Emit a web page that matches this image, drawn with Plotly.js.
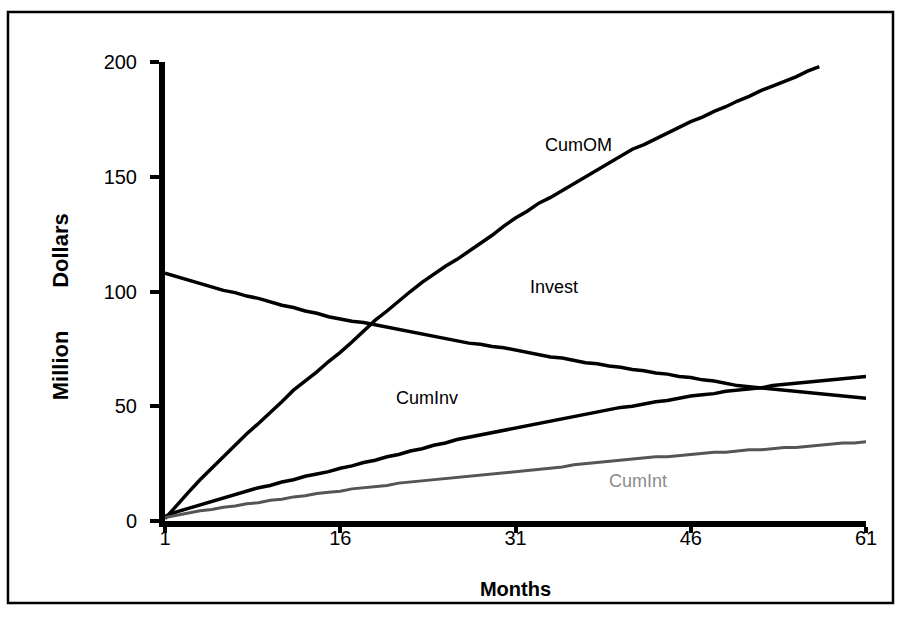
<!DOCTYPE html>
<html>
<head>
<meta charset="utf-8">
<script src="https://cdn.plot.ly/plotly-3.0.1.min.js"></script>
<style>html,body{margin:0;padding:0;background:#fff;}#chart{width:898px;height:634px;}</style>
</head>
<body>
<div id="chart"></div>
<script>
// Months 1..61
const months = Array.from({length: 61}, (_, i) => i + 1);

// CumOM (ends at month 57, where it reaches the top of the chart)
const cumOM = [1,7,12.5,18,23,28.5,33.5,38,42.5,47,52,57,61,65,69.5,73.5,78,83,87.5,91.5,
  96,100,104,107.5,111,114,117.5,121,124.5,128.5,132,135,138.5,141,144,147,150,153,156,159,
  162,164,166.5,169,171.5,174,176,178.5,180.5,183,185,187.5,189.5,191.5,193.5,196,198];

const invest = [108,106.5,105,103.5,102,100.5,99.5,98,97,95.5,94,93,91.5,90.5,89,88,87,86.5,85.5,84.5,
  83.5,82.5,81.5,80.5,79.5,78.5,77.5,77,76,75.5,74.5,73.5,72.5,71.5,71,70,69,68.5,67.5,67,
  66,65.5,64.5,64,63,62.5,61.5,61,60,59,58.5,58,57.5,57,56.5,56,55.5,55,54.5,54,53.5];

const cumInv = [2,4,5.5,7,8.5,10,11.5,13,14.5,15.5,17,18,19.5,20.5,21.5,23,24,25.5,26.5,28,
  29,30.5,31.5,33,34,35.5,36.5,37.5,38.5,39.5,40.5,41.5,42.5,43.5,44.5,45.5,46.5,47.5,48.5,49.5,
  50,51,52,52.5,53.5,54.5,55,55.5,56.5,57,57.5,58,59,59.5,60,60.5,61,61.5,62,62.5,63];

const cumInt = [1.5,2.5,3.5,4.5,5,6,6.5,7.5,8,9,9.5,10.5,11,12,12.5,13,14,14.5,15,15.5,
  16.5,17,17.5,18,18.5,19,19.5,20,20.5,21,21.5,22,22.5,23,23.5,24.5,25,25.5,26,26.5,
  27,27.5,28,28,28.5,29,29.5,30,30,30.5,31,31,31.5,32,32,32.5,33,33.5,34,34,34.5];

const xTicks = [1,16,31,46,61];
const yTicks = [0,50,100,150,200];

const labelNames = ['CumOM','Invest','CumInv','CumInt'];
const labelX = [36.4, 34.3, 23.4, 41.5];
const labelY = [163.8, 102, 53.6, 17.4];
const labelColors = ['#000','#000','#000','#8a8a8a'];

const FONT = 'Liberation Sans, Arial, Helvetica, sans-serif';

const traces = [
  {x: months.slice(0, cumOM.length), y: cumOM, name: 'CumOM', mode: 'lines', line: {color: '#000', width: 3.5}},
  {x: months, y: invest, name: 'Invest', mode: 'lines', line: {color: '#000', width: 3.5}},
  {x: months, y: cumInv, name: 'CumInv', mode: 'lines', line: {color: '#000', width: 3.5}},
  {x: months, y: cumInt, name: 'CumInt', mode: 'lines', line: {color: '#555', width: 3}}
];

const annotations = labelNames.map((t, i) => ({
  x: labelX[i], y: labelY[i], xref: 'x', yref: 'y', text: t, showarrow: false,
  font: {family: FONT, size: 18, color: labelColors[i]}
}));

const NB = '\u00A0';
const layout = {
  width: 898, height: 634,
  margin: {l: 165, r: 32, t: 62, b: 113},
  paper_bgcolor: '#fff', plot_bgcolor: '#fff',
  showlegend: false,
  font: {family: FONT, color: '#000'},
  xaxis: {
    range: [1, 61], tickvals: xTicks, ticktext: xTicks.map(String),
    showgrid: false, zeroline: false, showline: true, linecolor: '#000', linewidth: 6,
    ticks: 'outside', ticklen: 6, tickwidth: 4, tickcolor: '#000',
    tickfont: {family: FONT, size: 20, color: '#000'},
    ticklabelstandoff: -12,
    title: {text: '<b>Months</b>', font: {family: FONT, size: 20, color: '#000'}, standoff: 36}
  },
  yaxis: {
    range: [0, 200], tickvals: yTicks, ticktext: yTicks.map(String),
    showgrid: false, zeroline: false, showline: true, linecolor: '#000', linewidth: 6,
    ticks: 'outside', ticklen: 9, tickwidth: 4, tickcolor: '#000',
    tickfont: {family: FONT, size: 20, color: '#000'},
    ticklabelstandoff: 9,
    title: {text: '<b>Million' + NB.repeat(7) + 'Dollars' + NB.repeat(5) + '</b>', font: {family: FONT, size: 22, color: '#000'}, standoff: 31}
  },
  annotations: annotations,
  shapes: [
    {type: 'rect', xref: 'paper', yref: 'paper', x0: -0.224, x1: 1.0385, y0: -0.1786, y1: 1.109,
     line: {color: '#000', width: 2.5}, fillcolor: 'rgba(0,0,0,0)'}
  ]
};

Plotly.newPlot('chart', traces, layout, {displayModeBar: false, staticPlot: true});
</script>
</body>
</html>
